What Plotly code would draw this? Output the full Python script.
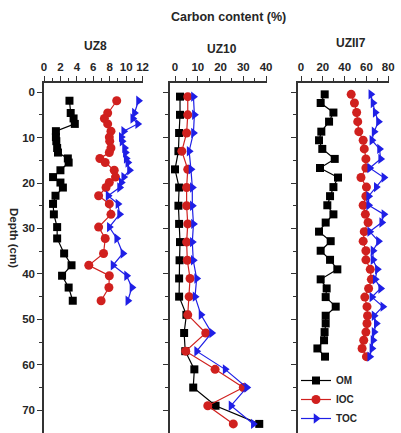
import plotly.graph_objects as go

W, H = 401, 433

# ---------------- data ----------------
depth_uz8 = [1.9, 4.6, 5.8, 7.0, 8.6, 9.9, 10.8, 12.3, 13.3, 14.6, 15.5, 17.2, 18.7,
             19.9, 21.0, 22.8, 24.6, 26.9, 29.7, 32.2, 35.5, 38.1, 40.4, 43.0, 45.9]
om_uz8 = [3.1, 3.25, 3.6, 3.75, 1.45, 1.45, 1.5, 1.6, 1.7, 2.9, 3.0, 2.0, 1.1,
          2.0, 2.3, 1.4, 1.1, 1.2, 1.6, 1.6, 2.45, 3.35, 2.2, 3.0, 3.5]
ioc_uz8 = [8.85, 7.75, 7.35, 7.75, 8.15, 7.95, 8.0, 8.15, 7.95, 6.8, 7.45, 8.55, 8.7,
           7.95, 7.55, 6.65, 7.95, 8.15, 6.65, 7.45, 7.25, 5.45, 7.95, 7.9, 6.95]
toc_uz8 = [11.5, 11.0, 10.8, 11.4, 9.7, 9.4, 9.5, 9.8, 9.9, 10.0, 10.2, 10.4, 9.7,
           9.4, 9.2, 7.8, 9.0, 9.2, 7.95, 8.85, 9.6, 8.4, 10.05, 10.7, 10.2]

depth_uz10 = [1, 5, 9, 13, 17, 21, 25, 29, 33, 37, 41, 45, 49, 53, 57, 61, 65, 69, 73]
om_uz10 = [2.2, 2.2, 1.8, 1.5, 0.0, 1.8, 1.5, 1.8, 2.2, 2.0, 1.8, 1.8, 5.0, 4.0,
           4.5, 8.5, 8.0, 17.8, 37.0]
ioc_uz10 = [5.6, 5.6, 5.1, 3.0, 5.6, 5.1, 5.1, 5.6, 5.1, 5.4, 6.6, 6.2, 5.6, 13.5,
            4.7, 17.6, 30.0, 14.4, 25.6]
toc_uz10 = [8.1, 8.5, 8.1, 6.2, 7.0, 7.6, 7.6, 8.1, 7.6, 8.0, 9.5, 8.8, 11.4, 16.1,
            9.5, 22.0, 31.5, 24.6, 34.4]

depth_uzii7 = [0.5, 2.4, 4.5, 6.5, 8.7, 10.6, 12.5, 14.7, 16.7, 18.8, 20.9, 22.9, 24.9,
               26.9, 28.7, 30.7, 32.8, 34.9, 36.9, 39.0, 41.2, 43.2, 45.1, 47.2, 49.2,
               50.9, 52.8, 54.6, 56.4, 58.2]
om_uzii7 = [21.7, 18.0, 29.7, 25.7, 18.6, 16.5, 19.5, 30.9, 17.4, 33.9, 29.7, 26.6, 24.1,
            29.7, 22.6, 16.5, 27.2, 18.0, 26.6, 33.3, 18.0, 23.5, 22.6, 31.8, 22.6,
            22.6, 21.6, 21.1, 15.0, 22.0]
ioc_uzii7 = [46, 49, 51, 52, 53, 57, 58, 59.5, 59.5, 55, 60, 59.5, 57, 59, 61.5, 58, 57,
             59.5, 59.5, 63.5, 64.5, 62, 58.5, 60.5, 61, 60.5, 59.5, 57.5, 56, 60]
toc_uzii7 = [64, 66, 68, 71, 67, 65, 72, 73, 63, 76, 69, 62, 62, 76, 74, 63, 71, 66, 66,
             70, 68, 73, 65, 75, 67, 69, 67, 66, 65, 63]

panel_names = ["UZ8", "UZ10", "UZII7"]
series_names = ["OM", "IOC", "TOC"]

# ---------------- styling ----------------
FONT = "Liberation Sans"
TXT = "#262626"
colors = ["#000000", "#d0201e", "#1f1fe6"]
symbols = ["square", "circle", "triangle-right"]
sizes = [8, 9, 9]

def px(x):
    return x / W

def py(y):
    return 1 - y / H

panels = [
    dict(depth=depth_uz8, vals=[om_uz8, ioc_uz8, toc_uz8], dom=[px(44), px(143)],
         rng=[0, 12.05], dtick=2, minor=1),
    dict(depth=depth_uz10, vals=[om_uz10, ioc_uz10, toc_uz10], dom=[px(170), px(267)],
         rng=[-2.2, 40.4], dtick=10, minor=5),
    dict(depth=depth_uzii7, vals=[om_uzii7, ioc_uzii7, toc_uzii7], dom=[px(298), px(389)],
         rng=[-2.8, 80.7], dtick=20, minor=10),
]

fig = go.Figure()
for i, p in enumerate(panels):
    xa = "x" if i == 0 else f"x{i+1}"
    ya = "y" if i == 0 else f"y{i+1}"
    for s in range(3):
        fig.add_trace(go.Scatter(
            x=p["vals"][s], y=p["depth"], xaxis=xa, yaxis=ya,
            mode="lines+markers", name=series_names[s],
            legendgroup=series_names[s], showlegend=(i == 2),
            line=dict(color=colors[s], width=1.2),
            marker=dict(symbol=symbols[s], size=sizes[s], color=colors[s],
                        line=dict(width=0)),
            cliponaxis=(i == 1),
        ))

layout = dict(
    width=W, height=H,
    margin=dict(l=0, r=0, t=0, b=0, autoexpand=False),
    paper_bgcolor="white", plot_bgcolor="white",
    font=dict(family=FONT, size=11, color=TXT, weight="bold"),
    showlegend=True,
    legend=dict(x=px(296), y=py(433), xanchor="left", yanchor="bottom",
                bgcolor="rgba(0,0,0,0)", font=dict(size=10, family=FONT, weight="bold", color=TXT),
                itemwidth=30, tracegroupgap=0),
)

ydom = [0, py(83)]
for i, p in enumerate(panels):
    xk = "xaxis" if i == 0 else f"xaxis{i+1}"
    yk = "yaxis" if i == 0 else f"yaxis{i+1}"
    yref = "y" if i == 0 else f"y{i+1}"
    xref = "x" if i == 0 else f"x{i+1}"
    layout[xk] = dict(
        domain=p["dom"], range=p["rng"], side="top", anchor=yref,
        showgrid=False, zeroline=False, showline=True, linecolor="#333", linewidth=1.5,
        ticks="outside", ticklen=5, tickwidth=1.2, tickcolor="#333",
        dtick=p["dtick"], tick0=0, automargin=False,
        minor=dict(ticks="outside", ticklen=3, tickwidth=1, tickcolor="#333", dtick=p["minor"]),
        tickfont=dict(size=11.5, family=FONT, weight="bold", color=TXT),
        ticklabelstandoff=1,
    )
    layout[yk] = dict(
        domain=ydom, range=[75, -2], anchor=xref,
        showgrid=False, zeroline=False, showline=True, linecolor="#333", linewidth=1.5,
        ticks="outside", ticklen=5, tickwidth=1.2, tickcolor="#333",
        dtick=10, tick0=0, automargin=False,
        minor=dict(ticks="outside", ticklen=3, tickwidth=1, tickcolor="#333", dtick=5),
        showticklabels=(i == 0),
        tickfont=dict(size=11.5, family=FONT, weight="bold", color=TXT),
    )

fig.update_layout(**layout)

ann = [
    dict(text="Carbon content (%)", x=px(229), y=py(17), size=12.5),
    dict(text=panel_names[0], x=px(95), y=py(46), size=12),
    dict(text=panel_names[1], x=px(222), y=py(49), size=12),
    dict(text=panel_names[2], x=px(351), y=py(43), size=12),
]
for a in ann:
    fig.add_annotation(xref="paper", yref="paper", showarrow=False,
                       xanchor="center", yanchor="middle", text=a["text"],
                       x=a["x"], y=a["y"],
                       font=dict(size=a["size"], family=FONT, weight="bold", color=TXT))
fig.add_annotation(text="Depth (cm)", xref="paper", yref="paper", x=px(14), y=py(238),
                   showarrow=False, textangle=90, xanchor="center", yanchor="middle",
                   font=dict(size=11.5, family=FONT, weight="bold", color=TXT))

fig.write_html("out.html")
